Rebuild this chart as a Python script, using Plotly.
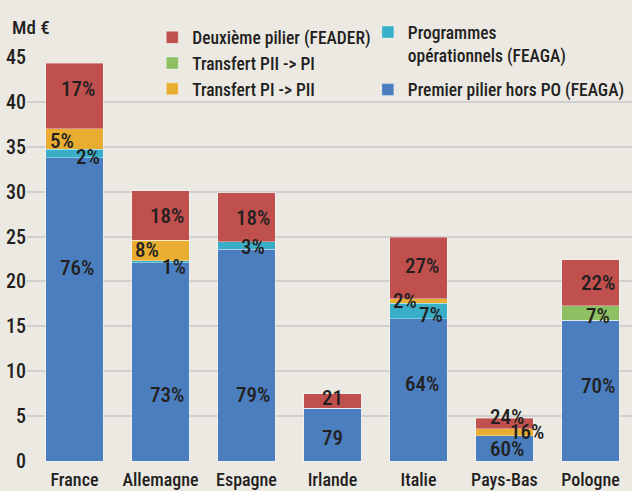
import plotly.graph_objects as go

countries = ["France", "Allemagne", "Espagne", "Irlande", "Italie", "Pays-Bas", "Pologne"]

# Values in Md € (stack order bottom -> top)
premier_pilier = [33.8, 22.1, 23.6, 5.9, 15.85, 2.8, 15.7]
programmes_op = [0.9, 0.2, 0.8, 0.0, 1.75, 0.0, 0.0]
transfert_pi_pii = [2.3, 2.3, 0.0, 0.0, 0.5, 0.8, 0.0]
transfert_pii_pi = [0.0, 0.0, 0.0, 0.0, 0.0, 0.0, 1.6]
deuxieme_pilier = [7.3, 5.5, 5.45, 1.6, 6.8, 1.15, 5.1]

# Share labels written in the segments
lab_premier = ["76%", "73%", "79%", "79", "64%", "60%", "70%"]
lab_programmes = ["2%", "1%", "3%", "", "7%", "", ""]
lab_pi_pii = ["5%", "8%", "", "", "2%", "16%", ""]
lab_pii_pi = ["", "", "", "", "", "", "7%"]
lab_deuxieme = ["17%", "18%", "18%", "21", "27%", "24%", "22%"]

y_ticks = [0, 5, 10, 15, 20, 25, 30, 35, 40, 45]

# label offsets (pixels) relative to segment centre
off_premier = [(3, 41), (7, -33), (7, -40), (0, -3), (4, 6), (3, 0), (8, 5)]
off_programmes = [(14, -4), (14, -5), (7, -1), (0, 0), (13, -4), (0, 0), (0, 0)]
off_pi_pii = [(-12, -2), (-13, 0), (0, 0), (0, 0), (-13, 0), (23, 0), (0, 0)]
off_pii_pi = [(0, 0)] * 6 + [(8, -3)]
off_deuxieme = [(4, 7), (7, -1), (7, -1), (0, 3), (4, 2), (3, 7), (8, 0)]

FONT = "Roboto Condensed, Liberation Sans Narrow, sans-serif"
TXT = "#231f20"
BG = "#ece9e3"
W = 500

series = [
    ("Premier pilier hors PO (FEAGA)", premier_pilier, "#4a7ebf", "legend2", 2, lab_premier, off_premier),
    ("Programmes<br>opérationnels (FEAGA)", programmes_op, "#39aec8", "legend2", 1, lab_programmes, off_programmes),
    ("Transfert PI -> PII", transfert_pi_pii, "#e9ad32", "legend", 3, lab_pi_pii, off_pi_pii),
    ("Transfert PII -> PI", transfert_pii_pi, "#8dbf63", "legend", 2, lab_pii_pi, off_pii_pi),
    ("Deuxième pilier (FEADER)", deuxieme_pilier, "#c0504e", "legend", 1, lab_deuxieme, off_deuxieme),
]

fig = go.Figure()
base = [0.0] * len(countries)
annotations = []
for k, (name, vals, color, leg, rank, labs, offs) in enumerate(series):
    fig.add_trace(go.Bar(
        x=list(range(len(countries))), y=vals, name=name,
        marker=dict(color=color, line=dict(color="rgba(255,255,255,0.35)", width=1)),
        width=0.665, legend=leg, legendrank=rank, legendgroup="g%d" % k,
    ))
    for i, (v, t, (dx, dy)) in enumerate(zip(vals, labs, offs)):
        if t:
            annotations.append(dict(
                x=i, y=base[i] + v / 2, xref="x", yref="y", text=t, showarrow=False,
                xshift=dx, yshift=dy, font=dict(family=FONT, size=21, color=TXT, weight=W),
            ))
    base = [b + v for b, v in zip(base, vals)]

annotations.append(dict(
    x=-0.028, y=1.07, xref="paper", yref="paper", xanchor="left", yanchor="middle",
    text="Md €", showarrow=False, font=dict(family=FONT, size=19, color=TXT, weight=W),
))

fig.update_layout(
    width=632, height=491,
    barmode="stack",
    paper_bgcolor=BG, plot_bgcolor=BG,
    margin=dict(l=27, r=0, t=56, b=29),
    font=dict(family=FONT, size=19, color=TXT, weight=W),
    annotations=annotations,
    legend=dict(
        x=0.207, y=1.09, xanchor="left", yanchor="top",
        bgcolor="rgba(0,0,0,0)", font=dict(family=FONT, size=17.5, color=TXT, weight=W),
        traceorder="normal", itemwidth=30, tracegroupgap=0,
    ),
    legend2=dict(
        x=0.5634, y=1.103, xanchor="left", yanchor="top", valign="top",
        bgcolor="rgba(0,0,0,0)", font=dict(family=FONT, size=17.5, color=TXT, weight=W),
        traceorder="grouped", itemwidth=30, tracegroupgap=9,
    ),
    xaxis=dict(
        range=[-0.552, 6.483], tickmode="array", tickvals=list(range(len(countries))),
        ticktext=countries, showgrid=False, zeroline=False, showline=False,
        ticks="", tickangle=0, automargin=False, ticklabelstandoff=5,
        tickfont=dict(family=FONT, size=18, color=TXT, weight=W),
    ),
    yaxis=dict(
        range=[-0.1, 45.1], tickmode="array", tickvals=y_ticks,
        showgrid=True, gridcolor="#cfcfcf", gridwidth=2, zeroline=False,
        ticks="", automargin=False, tickfont=dict(family=FONT, size=20, color=TXT, weight=W),
    ),
    bargap=0.335,
)

fig.write_html("out.html", config={"displayModeBar": False},
               post_script="document.body.style.margin='0';")
